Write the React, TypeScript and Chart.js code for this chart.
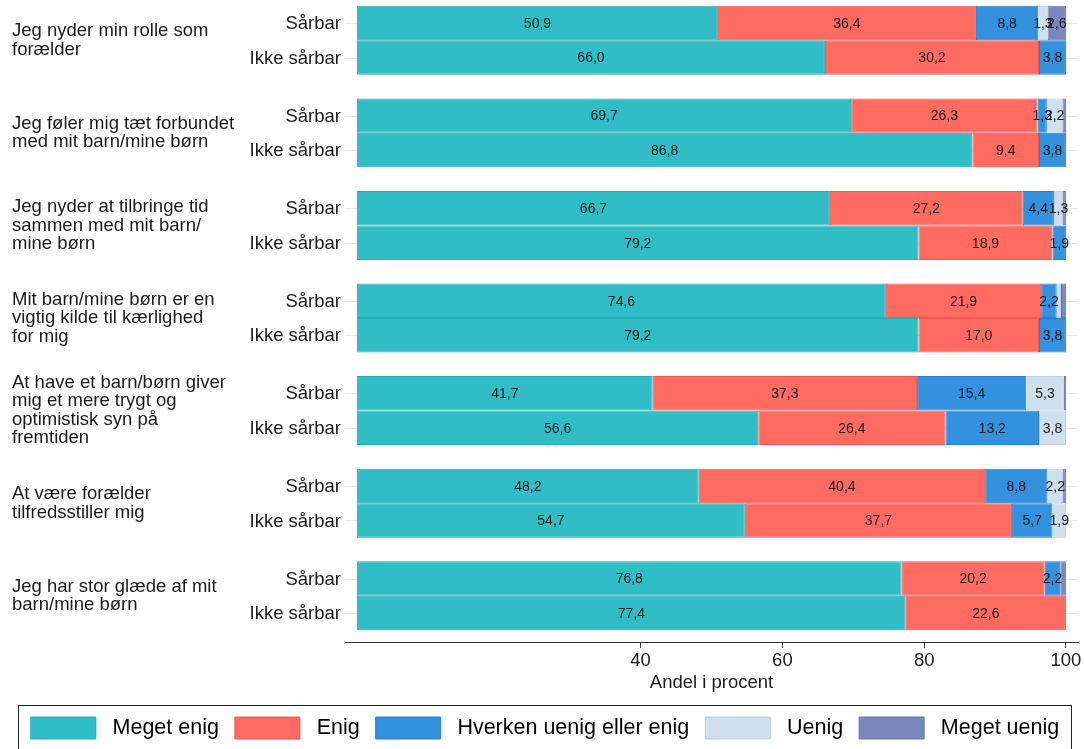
import React, { useEffect, useRef } from 'react';
import { Chart, registerables } from 'chart.js';

Chart.register(...registerables);

const FONT = '"Liberation Sans", Arial, Helvetica, sans-serif';

// Statements (y categories), split in lines as in the reference
const statements: string[][] = [
  ['Jeg nyder min rolle som', 'forælder'],
  ['Jeg føler mig tæt forbundet', 'med mit barn/mine børn'],
  ['Jeg nyder at tilbringe tid', 'sammen med mit barn/', 'mine børn'],
  ['Mit barn/mine børn er en', 'vigtig kilde til kærlighed', 'for mig'],
  ['At have et barn/børn giver', 'mig et mere trygt og', 'optimistisk syn på', 'fremtiden'],
  ['At være forælder', 'tilfredsstiller mig'],
  ['Jeg har stor glæde af mit', 'barn/mine børn'],
];

const groupLabels = ['Sårbar', 'Ikke sårbar'];

const responses = ['Meget enig', 'Enig', 'Hverken uenig eller enig', 'Uenig', 'Meget uenig'];

// Sårbar
const sarbarMegetEnig = [50.9, 69.7, 66.7, 74.6, 41.7, 48.2, 76.8];
const sarbarEnig = [36.4, 26.3, 27.2, 21.9, 37.3, 40.4, 20.2];
const sarbarHverken = [8.8, 1.3, 4.4, 2.2, 15.4, 8.8, 2.2];
const sarbarUenig = [1.3, 2.2, 1.3, 0.6, 5.3, 2.2, 0];
const sarbarMegetUenig = [2.6, 0.5, 0.4, 0.7, 0.3, 0.4, 0.8];

// Ikke sårbar
const ikkeMegetEnig = [66.0, 86.8, 79.2, 79.2, 56.6, 54.7, 77.4];
const ikkeEnig = [30.2, 9.4, 18.9, 17.0, 26.4, 37.7, 22.6];
const ikkeHverken = [3.8, 3.8, 1.9, 3.8, 13.2, 5.7, 0];
const ikkeUenig = [0, 0, 0, 0, 3.8, 1.9, 0];
const ikkeMegetUenig = [0, 0, 0, 0, 0, 0, 0];

const xTickValues = [40, 60, 80, 100];
const xTitle = 'Andel i procent';

const fillColors = ['#31BDC5', '#FF6A61', '#3391DD', '#CEDFEE', '#7B87BF'];
const borderColors = ['#20ADB5', '#EE5A52', '#2180CC', '#BACDE0', '#6773AE'];

const fmt = (v: number) => v.toFixed(1).replace('.', ',');

export default function App() {
  const ref = useRef<HTMLCanvasElement>(null);

  useEffect(() => {
    const canvas = ref.current;
    if (!canvas) return;

    const sarbarSeries = [sarbarMegetEnig, sarbarEnig, sarbarHverken, sarbarUenig, sarbarMegetUenig];
    const ikkeSeries = [ikkeMegetEnig, ikkeEnig, ikkeHverken, ikkeUenig, ikkeMegetUenig];

    const mk = (series: number[][], stack: string) =>
      responses.map((r, i) => ({
        label: r,
        data: series[i].map((v) => (v === 0 ? null : v)),
        stack,
        backgroundColor: fillColors[i],
        borderColor: borderColors[i],
        borderWidth: 1,
        borderSkipped: false,
        categoryPercentage: 0.745,
        barPercentage: 1,
      }));

    const datasets = [...mk(sarbarSeries, 'S'), ...mk(ikkeSeries, 'I')];

    const custom = {
      id: 'custom',
      beforeDatasetsDraw(chart: any) {
        const { ctx, chartArea } = chart;
        ctx.save();
        ctx.strokeStyle = '#E2E9F1';
        ctx.lineWidth = 1;
        [0, responses.length].forEach((di) => {
          chart.getDatasetMeta(di).data.forEach((el: any) => {
            const y = Math.round(el.y) + 0.5;
            ctx.beginPath();
            ctx.moveTo(chartArea.left, y);
            ctx.lineTo(chartArea.right, y);
            ctx.stroke();
          });
        });
        ctx.restore();
      },
      afterDatasetsDraw(chart: any) {
        const { ctx, chartArea } = chart;
        ctx.save();
        ctx.font = `14px ${FONT}`;
        ctx.textAlign = 'center';
        ctx.textBaseline = 'middle';
        ctx.fillStyle = '#1a1a1a';
        chart.data.datasets.forEach((ds: any, di: number) => {
          const meta = chart.getDatasetMeta(di);
          meta.data.forEach((el: any, i: number) => {
            const v = ds.data[i];
            if (v == null || v < 1) return;
            const { x, base, y } = el.getProps(['x', 'base', 'y'], true);
            ctx.fillText(fmt(v), (x + base) / 2, y + 1);
          });
        });
        ctx.font = `18.5px ${FONT}`;
        ctx.textAlign = 'right';
        [0, responses.length].forEach((di, gi) => {
          chart.getDatasetMeta(di).data.forEach((el: any) => {
            ctx.fillText(groupLabels[gi], chartArea.left - 4, el.y + 1);
          });
        });
        ctx.restore();
      },
      afterDraw(chart: any) {
        const { ctx } = chart;
        const hb = chart.legend && chart.legend.legendHitBoxes;
        if (!hb || !hb.length) return;
        const first = hb[0];
        const last = hb[hb.length - 1];
        const left = Math.round(first.left - 12.5) + 0.5;
        const right = Math.round(Math.max(last.left + last.width + 3, chart.width - 13)) + 0.5;
        const top = Math.round(first.top - 12) + 0.5;
        ctx.save();
        ctx.strokeStyle = '#222';
        ctx.lineWidth = 1;
        ctx.strokeRect(left, top, right - left, chart.height + 20 - top);
        ctx.restore();
      },
    };

    const chart = new Chart(canvas, {
      type: 'bar',
      data: { labels: statements as any, datasets: datasets as any },
      options: {
        indexAxis: 'y',
        responsive: false,
        animation: false,
        devicePixelRatio: 1,
        layout: { padding: { left: 12, right: 6, top: 0, bottom: 0 } },
        scales: {
          x: {
            type: 'linear',
            stacked: true,
            min: -1.7,
            max: 101.7,
            afterBuildTicks: (s: any) => {
              s.ticks = xTickValues.map((v) => ({ value: v }));
            },
            ticks: {
              color: '#1a1a1a',
              padding: 1.5,
              font: { family: FONT, size: 18.5, lineHeight: 1.2 },
              callback: (v: any) => String(v),
            },
            grid: {
              display: true,
              drawOnChartArea: false,
              drawTicks: true,
              tickLength: 6,
              tickColor: '#333',
              tickWidth: 1,
            },
            border: { display: true, color: '#333', width: 1 },
            title: {
              display: true,
              text: xTitle,
              color: '#1a1a1a',
              font: { family: FONT, size: 18.5, lineHeight: 1.0 },
              padding: { top: 0.5, bottom: 8.75 },
            },
          },
          y: {
            type: 'category',
            stacked: true,
            grid: { display: false },
            border: { display: false },
            ticks: {
              crossAlign: 'far',
              autoSkip: false,
              color: '#1a1a1a',
              font: { family: FONT, size: 18.5, lineHeight: 1.0 },
            },
            afterFit: (s: any) => {
              s.width = 333;
              s.paddingTop = 0;
              s.paddingBottom = 0;
            },
          },
        },
        plugins: {
          tooltip: { enabled: false },
          legend: {
            position: 'bottom',
            labels: {
              boxWidth: 65,
              boxHeight: 22,
              padding: 16,
              color: '#000',
              font: { family: FONT, size: 21.5 },
              generateLabels: (c: any) =>
                Chart.defaults.plugins.legend.labels
                  .generateLabels(c)
                  .map((l: any) => ({ ...l, text: ' ' + l.text })),
              filter: (item: any) => item.datasetIndex < responses.length,
            },
          },
        },
      } as any,
      plugins: [custom],
    });

    return () => chart.destroy();
  }, []);

  return (
    <div style={{ position: 'fixed', left: 0, top: -6, width: 1084, height: 755, background: '#fff' }}>
      <canvas ref={ref} width={1084} height={755} style={{ display: 'block' }} />
    </div>
  );
}
